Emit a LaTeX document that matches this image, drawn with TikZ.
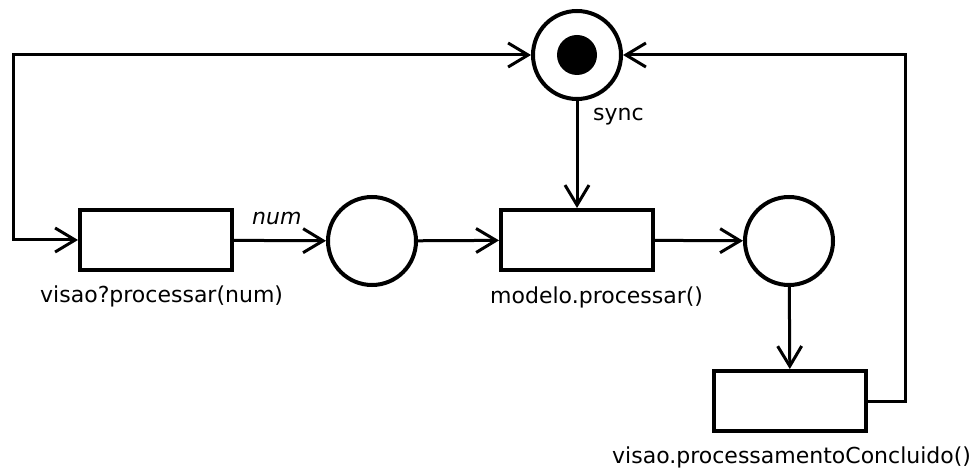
\documentclass[tikz,border=0pt]{standalone}
\usepackage{fontspec}
\setmainfont{DejaVu Sans}
\usetikzlibrary{arrows.meta}
\begin{document}
\begin{tikzpicture}[x=1pt,y=-1pt,
  place/.style={circle,draw,line width=4pt,minimum size=88pt,inner sep=0pt},
  trans/.style={rectangle,draw,line width=4pt,minimum width=152pt,minimum height=60pt,inner sep=0pt},
  arc/.style={line width=3pt,line cap=rect,-{Straight Barb[length=20pt,width=24pt,line cap=butt]}},
  lbl/.style={inner sep=0pt,anchor=base west,font=\fontsize{22}{26}\selectfont}]
  \useasboundingbox (0,0) rectangle (977,470);

  % places
  \node[place] (sync) at (577,55) {};
  \fill (sync.center) circle[radius=20pt];
  \node[place] (p2) at (372,241) {};
  \node[place] (p3) at (789,241) {};

  % transitions
  \node[trans] (t1) at (156,240) {};
  \node[trans] (t2) at (577,240) {};
  \node[trans] (t3) at (790,401) {};

  % bends of the feedback arcs
  \coordinate (lt) at (13,55);
  \coordinate (lb) at (13,240);
  \coordinate (rb) at (905,401);
  \coordinate (rt) at (905,55);

  % arcs
  \draw[arc] (t1) -- (p2);
  \draw[arc] (p2) -- (t2);
  \draw[arc] (t2) -- (p3);
  \draw[arc] (sync) -- (t2);
  \draw[arc] (p3) -- (t3);
  \draw[arc] (t3.east) -- (rb) -- (rt) -- (sync);
  \draw[arc] (lt) -- (sync);
  \draw[arc] (lt) -- (lb) -- (t1);

  % labels
  \node[lbl] (lsync) at (593,121) {sync};
  \node[lbl,font=\fontsize{22}{26}\selectfont\itshape] (lnum) at (252,225) {num};
  \node[lbl] (l1) at (40,303) {visao?processar(num)};
  \node[lbl] (l2) at (490,304) {modelo.processar()};
  \node[lbl] (l3) at (612,463) {visao.processamentoConcluido()};
\end{tikzpicture}
\end{document}
